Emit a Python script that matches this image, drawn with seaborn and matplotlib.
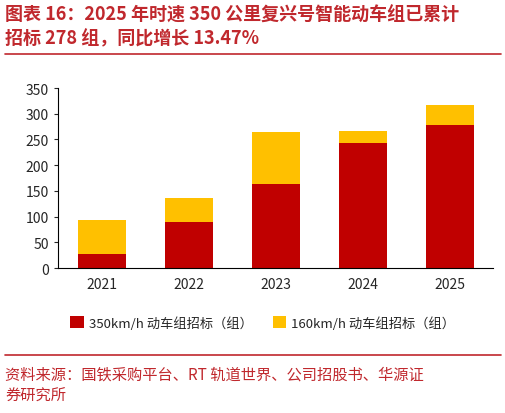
import numpy as np
import pandas as pd
import matplotlib
matplotlib.use('Agg')
import matplotlib.pyplot as plt
import seaborn as sns

years = ['2021', '2022', '2023', '2024', '2025']
high_speed = [28, 90, 163, 243, 278]
mid_speed = [66, 47, 102, 23, 39]
totals = [a + b for a, b in zip(high_speed, mid_speed)]

sns.set_style('white')
plt.rcParams['font.family'] = ['Noto Sans CJK SC', 'DejaVu Sans']

fig = plt.figure(figsize=(5.06, 4.14), dpi=100)
ax = fig.add_axes([0.115, 0.35, 0.86, 0.435])

df_tot = pd.DataFrame({'year': years, 'v': totals})
df_hi = pd.DataFrame({'year': years, 'v': high_speed})
sns.barplot(data=df_tot, x='year', y='v', color='#FFC000', width=0.55, ax=ax,
            saturation=1, linewidth=0, label='160km/h 动车组招标（组）')
sns.barplot(data=df_hi, x='year', y='v', color='#C00000', width=0.55, ax=ax,
            saturation=1, linewidth=0, label='350km/h 动车组招标（组）')

ax.set_ylim(0, 350)
ax.set_yticks(range(0, 351, 50))
ax.set_xlabel('')
ax.set_ylabel('')
for s in ['top', 'right']:
    ax.spines[s].set_visible(False)
for s in ['left', 'bottom']:
    ax.spines[s].set_color('black')
    ax.spines[s].set_linewidth(0.8)
ax.tick_params(axis='both', labelsize=10, length=3, direction='out', left=True, bottom=False)

h, l = ax.get_legend_handles_labels()
ax.legend(h[::-1], l[::-1], loc='upper center', bbox_to_anchor=(0.47, -0.2), ncol=2,
          frameon=False, fontsize=9.5, handlelength=1.0, handleheight=1.0,
          handletextpad=0.4, columnspacing=1.5)

fig.text(0.01, 0.935, '图表 16：2025 年时速 350 公里复兴号智能动车组已累计\n招标 278 组，同比增长 13.47%',
         color='#C0282D', fontsize=13, fontweight='bold', va='center', linespacing=1.3)
fig.add_artist(plt.Line2D([0.01, 0.99], [0.868, 0.868], color='#C0282D', lw=1.2))
fig.add_artist(plt.Line2D([0.01, 0.99], [0.14, 0.14], color='#C0282D', lw=1.2))
fig.text(0.01, 0.07, '资料来源：国铁采购平台、RT 轨道世界、公司招股书、华源证\n券研究所',
         color='#C0282D', fontsize=11, va='center', linespacing=1.3)

fig.savefig('out.png', dpi=100)
